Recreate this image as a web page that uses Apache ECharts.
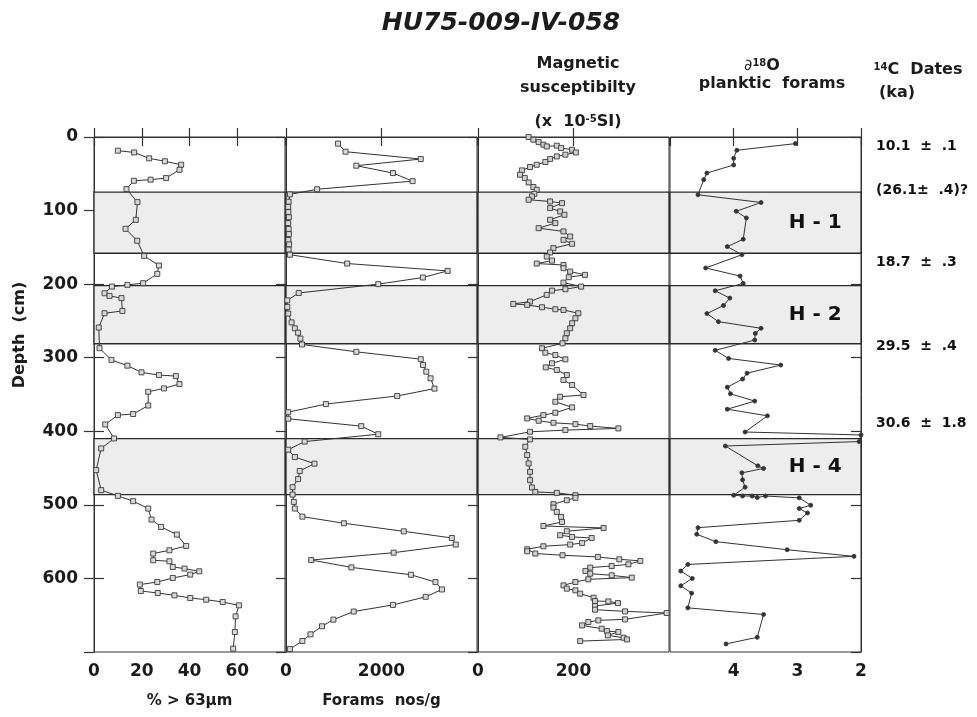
<!DOCTYPE html>
<html><head><meta charset="utf-8">
<script src="https://cdn.jsdelivr.net/npm/echarts/dist/echarts.min.js"></script>
<style>html,body{margin:0;padding:0;background:#fff}#c{width:977px;height:717px}</style>
</head><body><div id="c"></div>
<script>
// ---------- data ----------
const sandPct = [10.0,16.8,23.1,29.7,36.5,35.8,30.2,23.7,16.7,13.6,18.2,17.5,13.2,18.1,21,27.2,26.5,20.6,14,7.5,4.4,6.5,11.5,11.9,4.4,2,2.3,7.3,14,19.9,27.2,34.3,35.8,29.3,22.7,22.7,16.4,10,4.7,8.4,3,0.9,3,10,16.4,22.7,24.1,28.1,34.7,38.6,31.6,24.8,24.8,31.6,33,37.9,44.1,40.3,33,26.5,19.2,19.6,26.7,33.7,40.3,47,53.9,60.7,59.3,59,58.3];
const sandDepth = [18.6,21,29,33,37.7,44.5,55.8,58,59.5,70.8,88.5,112.6,124.8,141,161.6,174.7,186,198.7,201,203.3,212.4,216,219,236.4,239.6,259,287,303,310.8,319.9,323.6,325,335.8,341.7,346.3,365,376.6,378,390.7,409.7,423.3,452.8,480,487.8,495,505,520,530,540.4,555.9,561.7,566.2,575.3,576.7,584.4,586.6,590.3,594.8,599.4,604.9,608.4,617.1,619.8,623,626.6,628.9,632,636.6,651.6,672.9,695.5];

const foramCount = [1089,1247,2822,1473,2240,2651,651,82,55,45,50,60,45,55,60,50,65,55,82,1281,3385,2866,1932,267,27,27,47,117,185,253,302,335,1473,2822,2870,2938,3027,3110,2329,836,47,47,1576,1932,390,47,185,596,288,253,138,138,164,185,343,1212,2466,3473,3555,2254,528,1370,2616,3130,3267,2925,2240,1418,993,754,514,343,82];
const foramDepth = [9,20,30,39,49,60,71,78,88,95,102,109,117,125,132,140,146,153,160,172,182,191,200,212,222,231,240,252,260,266,274,282,292,302,310,319,328,342,352,363,374,383,393,404,414,425,435,444,454,465,476,486,496,505,516,525,536,545,554,565,575,585,595,605,615,625,636,645,656,665,676,685,696];

const magSus = [106,116,127,137,144,165,174,197,205,183,165,151,141,123,109,92,88,98,106,116,123,118,113,106,151,176,151,172,181,151,162,127,179,193,179,197,158,151,144,155,123,179,179,193,224,190,179,216,183,155,144,109,74,103,134,162,179,210,204,197,193,186,183,177,134,141,162,183,155,142,165,186,179,197,221,172,162,197,162,137,103,127,158,204,235,294,183,109,47,109,99,103,106,109,109,113,120,165,204,204,186,158,158,165,174,176,137,263,186,172,197,238,218,193,137,103,103,120,177,251,296,340,315,280,235,225,235,280,322,231,204,179,186,204,214,242,245,273,293,245,245,308,395,308,252,231,218,259,270,294,272,305,312,214];
const magDepth = [0,3.7,7,10.5,12.8,11.8,15,17.3,21,24,26.4,30,34,37.7,40.8,45.4,51.3,55.8,61.8,68,71.7,77.2,80.8,85.3,87.6,89.9,96.6,101.2,105.7,112.6,117,123.9,128.4,135.3,139.8,145.2,151.1,157,162.5,168,172,174,178.3,182.9,187.4,190.6,197.9,203.3,206.9,208.8,214.6,223.7,226.9,228.3,231.4,234.1,235.1,239.6,246.4,253.2,260,266.8,273.6,280.4,287.2,293.2,296.3,302.2,307.6,313.1,316.7,323.5,330.3,337.1,350.7,353,359.9,367.5,374.8,378,382.5,385.7,388.5,390.3,392.9,396.1,398.4,400.7,408.3,411,421,432.4,443.7,455.1,466.4,476.4,482.4,483.7,486.9,490.5,493.7,499.1,503.7,509.6,516.4,523.3,528.7,531.4,535.9,541.3,543.6,545,551.8,554,556.3,560.4,563.1,566.2,568.5,570.8,574,576.2,580.8,583.1,585.3,589.8,593.5,595.8,598.9,601.2,604.9,609.4,613.9,616.2,620.7,626.2,630.7,631.2,633.5,637.5,642.5,644.8,647,655.6,657,659.3,663.8,668.3,671.5,672.9,677.4,680.6,682.9,685.2];

const d18O = [3.03,3.95,4.0,4.0,4.42,4.47,4.56,3.57,3.96,3.80,3.85,4.1,3.87,4.44,3.90,3.85,4.29,4.06,4.16,4.42,4.24,3.57,3.66,3.67,4.29,4.08,3.26,3.79,3.86,4.10,4.05,3.67,4.10,3.47,3.82,2.0,2.03,4.13,3.62,3.53,3.87,3.86,3.82,4.0,3.86,3.71,3.63,3.5,2.97,2.79,2.97,2.84,2.97,4.56,4.58,4.28,3.16,2.11,4.72,4.83,4.65,4.83,4.66,4.72,3.53,3.63,4.12];
const d18Depth = [9,18,29,38,49,58,78.5,89,101,110,139,149,160,178,189,199,209,219,229,240,251,260,267,276,290,301,310,321,329,340,349,359,370,379,401,405,414,420,447,450.5,456.5,466,476,487,488,488,490,488,490.5,500.5,505,511,521,531,540,550,561,570,581,590,600,610,620,640,649,680,689];

const heinrichBands = [[75,158],[202,281],[410,486]];
const heinrichNames = ['H - 1','H - 2','H - 4'];
const c14Dates = ['10.1  \u00b1  .1','(26.1\u00b1  .4)?','18.7  \u00b1  .3','29.5  \u00b1  .4','30.6  \u00b1  1.8'];
const c14Depth = [13,72,171,285,389];

const depthMin = 0, depthMax = 700, depthStep = 100;
const panelScales = [
  {min:0, max:80, interval:20, inverse:false},
  {min:0, max:4000, interval:2000, inverse:false},
  {min:0, max:400, interval:200, inverse:false},
  {min:2, max:5, interval:1, inverse:true}
];
const panelNames = ['% > 63\u03bcm','Forams  nos/g','',''];

// ---------- chart ----------
const FONT = 'DejaVu Sans';
const INK = '#1c1c1c';
const LINE = '#333';
const gridLefts = [94, 286, 478, 670];
const gridW = 191, gridTop = 137, gridH = 515;

const grids = gridLefts.map(l => ({left:l, top:gridTop, width:gridW, height:gridH, show:true, borderColor:LINE, borderWidth:1, backgroundColor:'transparent'}));

const xAxes = [];
panelScales.forEach((s,i) => {
  xAxes.push({
    gridIndex:i, type:'value', position:'bottom', min:s.min, max:s.max, interval:s.interval, inverse:s.inverse,
    axisLine:{show:true, lineStyle:{color:LINE, width:1}},
    axisTick:{show:true, inside:true, length:9, lineStyle:{color:LINE, width:1.2}},
    axisLabel:{show:true, margin:11, color:INK, fontSize:17, fontWeight:'bold', fontFamily:FONT,
      showMinLabel:true, showMaxLabel:false, hideOverlap:false, formatter:(v)=>String(v)},
    splitLine:{show:false},
    name:panelNames[i], nameLocation:'middle', nameGap:42,
    nameTextStyle:{color:INK, fontSize:15, fontWeight:'bold', fontFamily:FONT}
  });
});
panelScales.forEach((s,i) => {
  xAxes.push({
    gridIndex:i, type:'value', position:'top', min:s.min, max:s.max, interval:s.interval, inverse:s.inverse,
    axisLine:{show:true, lineStyle:{color:LINE, width:1}},
    axisTick:{show:true, inside:true, length:9, lineStyle:{color:LINE, width:1.2}},
    axisLabel:{show:false}, splitLine:{show:false}
  });
});

const yAxes = gridLefts.map((l,i) => ({
  gridIndex:i, type:'value', position:'right', inverse:true, min:depthMin, max:depthMax, interval:depthStep,
  axisLine:{show:true, lineStyle:{color:LINE, width:1}},
  axisTick:{show:true, inside:true, length:10, lineStyle:{color:LINE, width:1.2}},
  axisLabel:{show:false}, splitLine:{show:false}
}));
yAxes.push({
  gridIndex:0, type:'value', position:'left', inverse:true, min:depthMin, max:depthMax, interval:depthStep,
  axisLine:{show:true, lineStyle:{color:LINE, width:1}},
  axisTick:{show:true, inside:true, length:10, lineStyle:{color:LINE, width:1.2}},
  axisLabel:{show:true, margin:16, color:INK, fontSize:17, fontWeight:'bold', fontFamily:FONT, showMaxLabel:false},
  splitLine:{show:false}
});

function pairs(xs, ds){ return xs.map((v,k)=>[v, ds[k]]); }
const bandArea = {
  silent:true,
  itemStyle:{color:'#ededed', borderColor:'#2a2a2a', borderWidth:1.3},
  data: heinrichBands.map(b => [{yAxis:b[0]},{yAxis:b[1]}])
};
function profile(i, data, symbol, size, fill){
  return {
    type:'line', xAxisIndex:i, yAxisIndex:i, data:data, symbol:symbol, symbolSize:size,
    showAllSymbol:true, animation:false, silent:true, z:3,
    lineStyle:{color:LINE, width:1},
    itemStyle:{color:fill, borderColor:'#3a3a3a', borderWidth:0.9},
    markArea: bandArea
  };
}
const labelOnly = {
  type:'scatter', xAxisIndex:3, yAxisIndex:3, clip:false, silent:true, z:6, animation:false,
  symbol:'circle', symbolSize:0, itemStyle:{color:INK, opacity:1}
};

const series = [
  profile(0, pairs(sandPct, sandDepth), 'rect', 5, '#d8d8d8'),
  profile(1, pairs(foramCount, foramDepth), 'rect', 5, '#d8d8d8'),
  profile(2, pairs(magSus, magDepth), 'rect', 5, '#d0d0d0'),
  profile(3, pairs(d18O, d18Depth), 'circle', 4, '#333'),
  Object.assign({}, labelOnly, {
    data: heinrichBands.map((b,k)=>({value:[2.72,(b[0]+b[1])/2], label:{formatter:heinrichNames[k]}})),
    label:{show:true, position:'inside', color:'#111', fontSize:20, fontWeight:'bold', fontFamily:FONT}
  }),
  Object.assign({}, labelOnly, {
    data: c14Depth.map((d,k)=>({value:[2,d], label:{formatter:c14Dates[k]}})),
    label:{show:true, position:'right', distance:15, color:'#111', fontSize:14, fontWeight:'bold', fontFamily:FONT}
  })
];

function txt(x, y, text, size){
  return {type:'text', x:x, y:y, silent:true, z:10,
    style:{text:text, fill:INK, fontSize:size, fontWeight:'bold', fontFamily:FONT,
      align:'center', verticalAlign:'middle'}};
}
const sup = {fontSize:10, fontWeight:'bold', fontFamily:FONT, fill:INK, verticalAlign:'top'};
const graphics = [
  {type:'text', x:501, y:23, silent:true, z:10, style:{text:'HU75-009-IV-058', fill:INK, fontSize:25, fontWeight:'bold', fontStyle:'italic', fontFamily:FONT, align:'center', verticalAlign:'middle'}},
  txt(578, 64, 'Magnetic', 16),
  txt(578, 88, 'susceptibilty', 16),
  {type:'text', x:578, y:122, silent:true, z:10, style:{text:'(x  10{s|-5}SI)', fill:INK, fontSize:16, fontWeight:'bold', fontFamily:FONT, align:'center', verticalAlign:'middle', rich:{s:sup}}},
  {type:'text', x:762, y:66, silent:true, z:10, style:{text:'{d|\u2202}{s|18}O', fill:INK, fontSize:16, fontWeight:'bold', fontFamily:FONT, align:'center', verticalAlign:'middle', rich:{s:sup, d:{fontSize:16, fontWeight:'normal', fontStyle:'italic', fontFamily:FONT, fill:INK}}}},
  txt(772, 84, 'planktic  forams', 16),
  {type:'text', x:918, y:70, silent:true, z:10, style:{text:'{s|14}C  Dates', fill:INK, fontSize:16, fontWeight:'bold', fontFamily:FONT, align:'center', verticalAlign:'middle', rich:{s:sup}}},
  txt(897, 93, '(ka)', 16),
  {type:'text', x:20, y:335, rotation:Math.PI/2, silent:true, z:10, style:{text:'Depth  (cm)', fill:INK, fontSize:16, fontWeight:'bold', fontFamily:FONT, align:'center', verticalAlign:'middle'}}
];

const chart = echarts.init(document.getElementById('c'), null, {renderer:'canvas'});
chart.setOption({
  backgroundColor:'#ffffff',
  animation:false,
  grid:grids, xAxis:xAxes, yAxis:yAxes, series:series, graphic:graphics
});
</script></body></html>
